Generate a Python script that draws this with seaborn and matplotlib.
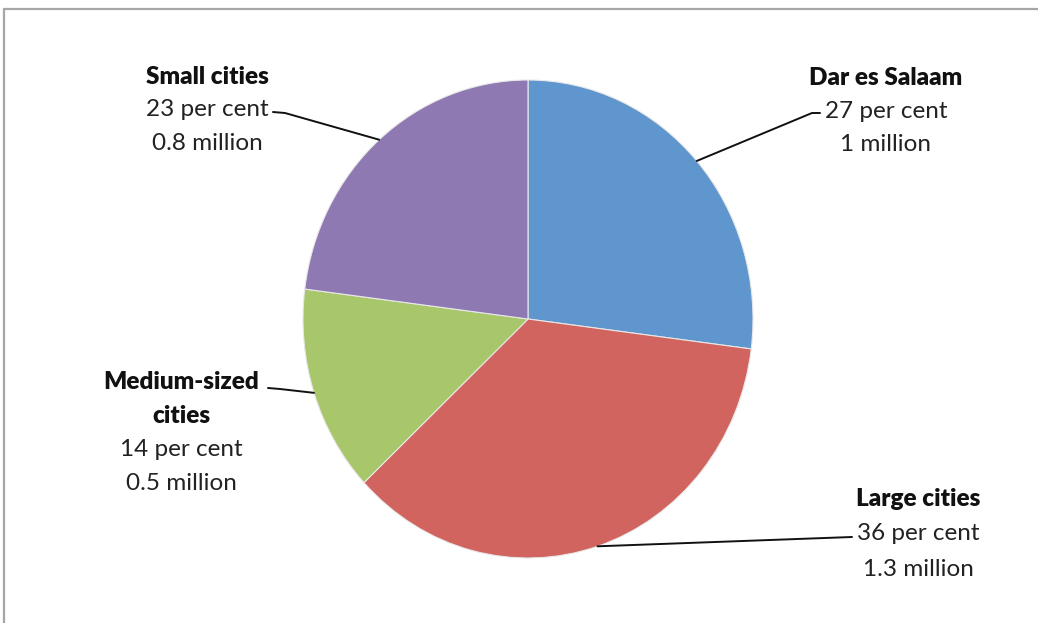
import numpy as np
import matplotlib
matplotlib.use("Agg")
import matplotlib.pyplot as plt
from matplotlib.patches import Rectangle
import seaborn as sns

# Urban population shares by settlement type
categories = ["Dar es Salaam", "Large cities", "Medium-sized\ncities", "Small cities"]
shares = [27, 36, 14, 23]            # per cent
populations = ["1", "1.3", "0.5", "0.8"]  # million
colors = ["#5F96CD", "#D2645F", "#A8C66A", "#8F79B2"]

sns.set_theme(style="white")
plt.rcParams["font.family"] = ["Lato", "DejaVu Sans"]

W, H = 1038, 623
fig = plt.figure(figsize=(W / 100, H / 100), dpi=100)


def fx(px):
    return px / W


def fy(py):
    return 1 - py / H


# pie axes spans the pie's bounding box (slightly taller than wide)
ax = fig.add_axes([fx(303), fy(558), fx(753) - fx(303), fy(80) - fy(558)])
wedges, _ = ax.pie(shares, colors=colors, startangle=90, counterclock=False,
                   radius=1, wedgeprops=dict(edgecolor="#E8E8E8", linewidth=0.8))
ax.set_xlim(-1, 1)
ax.set_ylim(-1, 1)
ax.set_aspect("auto")
ax.axis("off")

# label blocks: centre x, first-line y, line gap, leader start and knee (pixels)
layout = {
    "Dar es Salaam": dict(x=886, y=78, gap=33, start=(820, 113), knee=(812, 113)),
    "Large cities": dict(x=918, y=499, gap=35, start=(852, 537), knee=(852, 537)),
    "Medium-sized\ncities": dict(x=181, y=382, gap=34, start=(268, 388), knee=(280, 389)),
    "Small cities": dict(x=207, y=77, gap=33, start=(273, 112), knee=(285, 113)),
}

fs = 17.5
for cat, share, pop, w in zip(categories, shares, populations, wedges):
    L = layout[cat]
    lines = cat.split("\n")
    y = L["y"]
    for ln in lines:
        fig.text(fx(L["x"]), fy(y), ln, ha="center", va="center",
                 fontsize=fs, fontweight="heavy", color="#111111")
        y += L["gap"]
    fig.text(fx(L["x"]), fy(y), f"{share} per cent", ha="center", va="center",
             fontsize=fs, color="#222222")
    y += L["gap"]
    fig.text(fx(L["x"]), fy(y), f"{pop} million", ha="center", va="center",
             fontsize=fs, color="#222222")

    # leader line from label to the wedge's outer edge at its mid-angle
    mid = np.deg2rad((w.theta1 + w.theta2) / 2)
    ex, ey = np.cos(mid), np.sin(mid)
    disp = ax.transData.transform((ex, ey))
    edge_fig = fig.transFigure.inverted().transform(disp)
    xs = [fx(L["start"][0]), fx(L["knee"][0]), edge_fig[0]]
    ys = [fy(L["start"][1]), fy(L["knee"][1]), edge_fig[1]]
    fig.add_artist(plt.Line2D(xs, ys, transform=fig.transFigure,
                              color="#111111", linewidth=1.4))

# chart frame (runs off the right and bottom)
fig.add_artist(Rectangle((fx(4), fy(640)), fx(1100), fy(9) - fy(640),
                         transform=fig.transFigure, fill=False,
                         edgecolor="#A6A6A6", linewidth=1.6))

fig.savefig("out.png", dpi=100, facecolor="white")
